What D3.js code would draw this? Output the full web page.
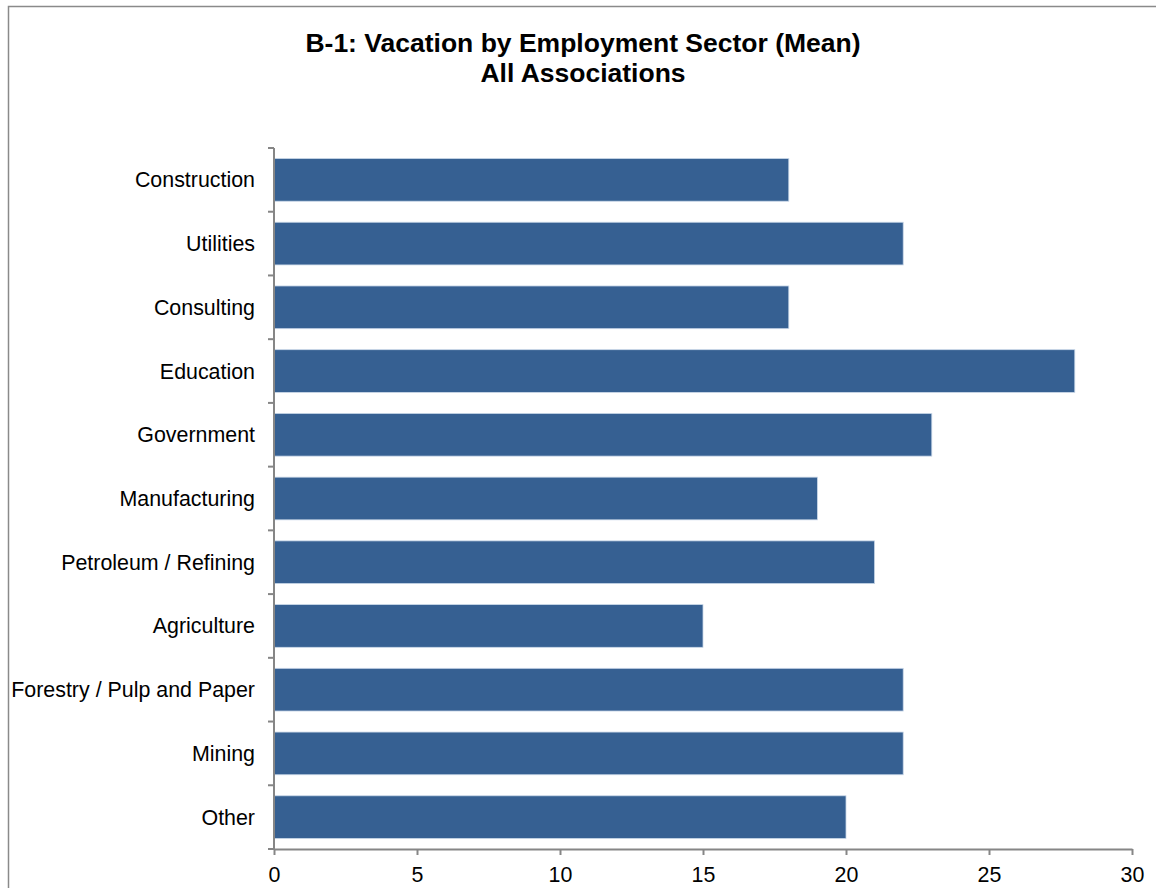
<!DOCTYPE html>
<html>
<head>
<meta charset="utf-8">
<script src="https://cdn.jsdelivr.net/npm/d3@7"></script>
<style>
  html, body { margin: 0; padding: 0; background: #fff; }
  svg { display: block; font-family: "Liberation Sans", Arial, Helvetica, sans-serif; }
</style>
</head>
<body>
<svg id="chart" width="1156" height="888"></svg>
<script>
// Mean vacation days by employment sector
const sectors = [
  "Construction", "Utilities", "Consulting", "Education", "Government",
  "Manufacturing", "Petroleum / Refining", "Agriculture",
  "Forestry / Pulp and Paper", "Mining", "Other"
];
const meanVacation = [18, 22, 18, 28, 23, 19, 21, 15, 22, 22, 20];
const xTicks = [0, 5, 10, 15, 20, 25, 30];
const titleLines = ["B-1: Vacation by Employment Sector (Mean)", "All Associations"];

const svg = d3.select("#chart");
const W = 1156, H = 888;

// frame around the chart area
svg.append("rect")
  .attr("x", 8.5).attr("y", 6.5)
  .attr("width", W + 10).attr("height", H + 10)
  .attr("fill", "none")
  .attr("stroke", "#8a8a8a")
  .attr("stroke-width", 1.5);

const plot = { left: 274, right: 1132, top: 148, bottom: 849 };

const x = d3.scaleLinear()
  .domain([xTicks[0], xTicks[xTicks.length - 1]])
  .range([plot.left, plot.right]);

const y = d3.scaleBand()
  .domain(sectors)
  .range([plot.top, plot.bottom])
  .paddingInner(0.33)
  .paddingOuter(0.165);

// bars
svg.append("g")
  .selectAll("rect")
  .data(sectors.map((s, i) => ({ s, v: meanVacation[i] })))
  .join("rect")
  .attr("x", x(0))
  .attr("y", d => y(d.s))
  .attr("width", d => x(d.v) - x(0))
  .attr("height", y.bandwidth())
  .attr("fill", "#366092")
  .attr("stroke", "#c9d7e8")
  .attr("stroke-width", 0.8);

// category axis: ticks at band boundaries
const yAxis = svg.append("g");
yAxis.append("line")
  .attr("x1", plot.left).attr("x2", plot.left)
  .attr("y1", plot.top).attr("y2", plot.bottom)
  .attr("stroke", "#868686").attr("stroke-width", 2);
const step = (plot.bottom - plot.top) / sectors.length;
yAxis.selectAll("line.tick")
  .data(d3.range(sectors.length + 1))
  .join("line")
  .attr("class", "tick")
  .attr("x1", plot.left - 6).attr("x2", plot.left)
  .attr("y1", i => plot.top + i * step)
  .attr("y2", i => plot.top + i * step)
  .attr("stroke", "#868686").attr("stroke-width", 2);
yAxis.selectAll("text")
  .data(sectors)
  .join("text")
  .attr("x", plot.left - 19)
  .attr("y", d => y(d) + y.bandwidth() / 2)
  .attr("dy", "0.35em")
  .attr("text-anchor", "end")
  .attr("font-size", 21.4)
  .attr("fill", "#000")
  .text(d => d);

// value axis
const xAxis = svg.append("g")
  .attr("transform", `translate(0,${plot.bottom})`)
  .call(d3.axisBottom(x).tickValues(xTicks).tickSize(6).tickSizeOuter(0).tickPadding(11.5));
xAxis.select(".domain").attr("stroke", "#868686").attr("stroke-width", 2);
xAxis.selectAll(".tick line").attr("stroke", "#868686").attr("stroke-width", 2);
xAxis.selectAll(".tick text")
  .attr("font-size", 21.4)
  .attr("font-family", "\"Liberation Sans\", Arial, sans-serif")
  .attr("fill", "#000");

// title
svg.append("g")
  .selectAll("text")
  .data(titleLines)
  .join("text")
  .attr("x", 583)
  .attr("y", (d, i) => 52 + i * 30)
  .attr("text-anchor", "middle")
  .attr("font-size", 26.5)
  .attr("font-weight", "bold")
  .attr("fill", "#000")
  .text(d => d);
</script>
</body>
</html>
